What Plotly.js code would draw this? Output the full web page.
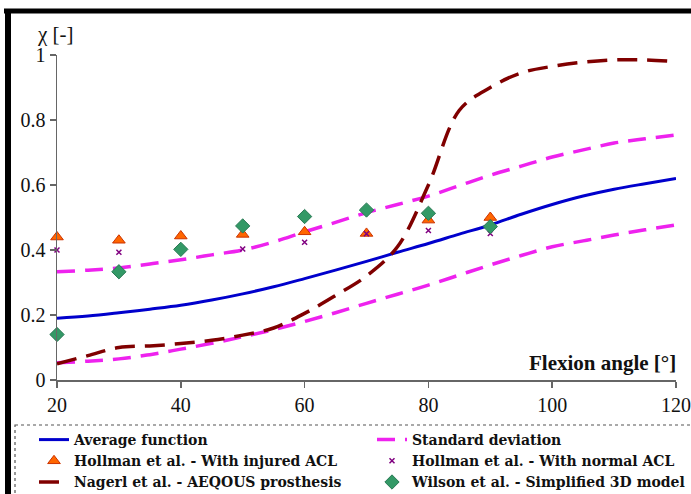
<!DOCTYPE html>
<html>
<head>
<meta charset="utf-8">
<script src="https://cdn.plot.ly/plotly-3.0.1.min.js"></script>
<style>html,body{margin:0;padding:0;background:#fff;}#chart{width:691px;height:494px;}</style>
</head>
<body>
<div id="chart"></div>
<script>
// ---- data ----
const angleCurve = [20,25,30,35,40,45,50,55,60,65,70,75,80,85,90,95,100,105,110,115,120];
const averageFunction = [0.19,0.197,0.207,0.218,0.23,0.246,0.265,0.287,0.312,0.338,0.365,0.393,0.42,0.449,0.477,0.51,0.54,0.566,0.587,0.604,0.62];
const stdUpper = [0.333,0.338,0.345,0.357,0.37,0.385,0.40,0.425,0.456,0.485,0.515,0.54,0.566,0.598,0.63,0.658,0.686,0.708,0.729,0.742,0.754];
const stdLower = [0.053,0.058,0.065,0.078,0.095,0.113,0.133,0.155,0.18,0.207,0.236,0.264,0.292,0.323,0.354,0.383,0.41,0.428,0.446,0.462,0.477];
const nagerl = [0.05,0.075,0.10,0.105,0.112,0.122,0.138,0.16,0.205,0.26,0.32,0.41,0.60,0.83,0.90,0.945,0.965,0.978,0.985,0.985,0.98];

const angleMeas = [20,30,40,50,60,70,80,90];
const hollmanInjured = [0.44,0.43,0.443,0.448,0.456,0.451,0.492,0.50];
const hollmanNormal = [0.40,0.393,0.40,0.403,0.424,0.45,0.46,0.451];
const wilson = [0.14,0.333,0.402,0.474,0.503,0.523,0.513,0.472];

const xTicks = [20,40,60,80,100,120];
const yTicks = [0,0.2,0.4,0.6,0.8,1];
const yTickText = ['0','0.2','0.4','0.6','0.8','1'];

// ---- layout helpers (pixel -> paper) ----
const W = 691, H = 494, L = 57, R = 15, T = 55, B = 114;
const pw = W - L - R, ph = H - T - B;
const px = v => (v - L) / pw;
const py = v => (H - B - v) / ph;

const serif = 'Liberation Serif';

const traces = [
  {x: angleCurve, y: averageFunction, name: 'Average function', mode: 'lines', legend: 'legend', legendrank: 1,
   line: {color: '#0000cc', width: 3, shape: 'spline'}},
  {x: angleCurve, y: stdUpper, name: 'Standard deviation', mode: 'lines', legend: 'legend2', legendrank: 1,
   line: {color: '#ee22ee', width: 3.5, dash: '18px,10px', shape: 'spline'}},
  {x: angleMeas, y: hollmanInjured, name: 'Hollman et al. - With injured ACL', mode: 'markers', legend: 'legend', legendrank: 2,
   marker: {symbol: 'triangle-up', size: 11, color: '#ff6600', line: {color: '#cc3300', width: 1}}},
  {x: angleMeas, y: hollmanNormal, name: 'Hollman et al. - With normal ACL', mode: 'markers', legend: 'legend2', legendrank: 2,
   marker: {symbol: 'x-thin', size: 5, color: '#800080', line: {color: '#800080', width: 1.5}}},
  {x: angleCurve, y: nagerl, name: 'Nagerl et al. - AEQOUS prosthesis', mode: 'lines', legend: 'legend', legendrank: 3,
   line: {color: '#800000', width: 3.5, dash: '20px,10px', shape: 'spline'}},
  {x: angleMeas, y: wilson, name: 'Wilson et al. - Simplified 3D model', mode: 'markers', legend: 'legend2', legendrank: 3,
   marker: {symbol: 'diamond', size: 11, color: '#339966', line: {color: '#2a7a55', width: 1}}},
  {x: angleCurve, y: stdLower, name: 'Standard deviation', mode: 'lines', showlegend: false, legend: 'legend2', legendrank: 4,
   line: {color: '#ee22ee', width: 3.5, dash: '18px,10px', shape: 'spline'}}
];
// draw lines first, markers on top
const order = [0,1,6,4,2,3,5];
const data = order.map(i => Object.assign({cliponaxis: false}, traces[i]));

const legendFont = {family: 'DejaVu Serif', size: 14, color: '#111', weight: 'bold'};
const legendBase = {orientation: 'v', y: py(424), xanchor: 'left', yanchor: 'top',
  traceorder: 'normal', font: legendFont, bgcolor: 'rgba(0,0,0,0)', borderwidth: 0, tracegroupgap: 0};

const layout = {
  width: W, height: H,
  margin: {l: L, r: R, t: T, b: B, pad: 0, autoexpand: false},
  paper_bgcolor: '#fff', plot_bgcolor: '#fff',
  font: {family: serif, color: '#111', size: 20},
  showlegend: true,
  xaxis: {range: [20, 120], tickvals: xTicks, ticktext: xTicks.map(String),
    showgrid: false, zeroline: false, showline: true, linecolor: '#666', linewidth: 1.5,
    ticks: 'outside', ticklen: 6, tickcolor: '#666', tickwidth: 1.5,
    tickfont: {family: serif, size: 20, color: '#111'}, fixedrange: true, automargin: false},
  yaxis: {range: [0, 1], tickvals: yTicks, ticktext: yTickText,
    showgrid: false, zeroline: false, showline: true, linecolor: '#666', linewidth: 1.5,
    ticks: 'outside', ticklen: 6, tickcolor: '#666', tickwidth: 1.5,
    tickfont: {family: serif, size: 20, color: '#111'}, fixedrange: true, automargin: false},
  legend: Object.assign({}, legendBase, {x: px(34)}),
  legend2: Object.assign({}, legendBase, {x: px(372)}),
  annotations: [
    {xref: 'paper', yref: 'paper', x: px(35), y: py(34), xanchor: 'left', yanchor: 'middle',
     text: 'χ [-]', showarrow: false, font: {family: serif, size: 21, color: '#111'}},
    {xref: 'paper', yref: 'paper', x: px(678), y: py(363), xanchor: 'right', yanchor: 'middle',
     text: '<b>Flexion angle [°]</b>', showarrow: false, font: {family: serif, size: 21, color: '#111'}}
  ],
  shapes: [
    {type: 'line', xref: 'paper', yref: 'paper', x0: px(4), x1: px(700), y0: py(11), y1: py(11),
     line: {color: '#000', width: 5}},
    {type: 'line', xref: 'paper', yref: 'paper', x0: px(8), x1: px(8), y0: py(9), y1: py(500),
     line: {color: '#000', width: 6}},
    {type: 'rect', xref: 'paper', yref: 'paper', x0: px(15), x1: px(705), y0: py(425), y1: py(510),
     line: {color: '#555', width: 1.2, dash: 'dot'}}
  ]
};

Plotly.newPlot('chart', data, layout, {staticPlot: true, displayModeBar: false});
</script>
</body>
</html>
